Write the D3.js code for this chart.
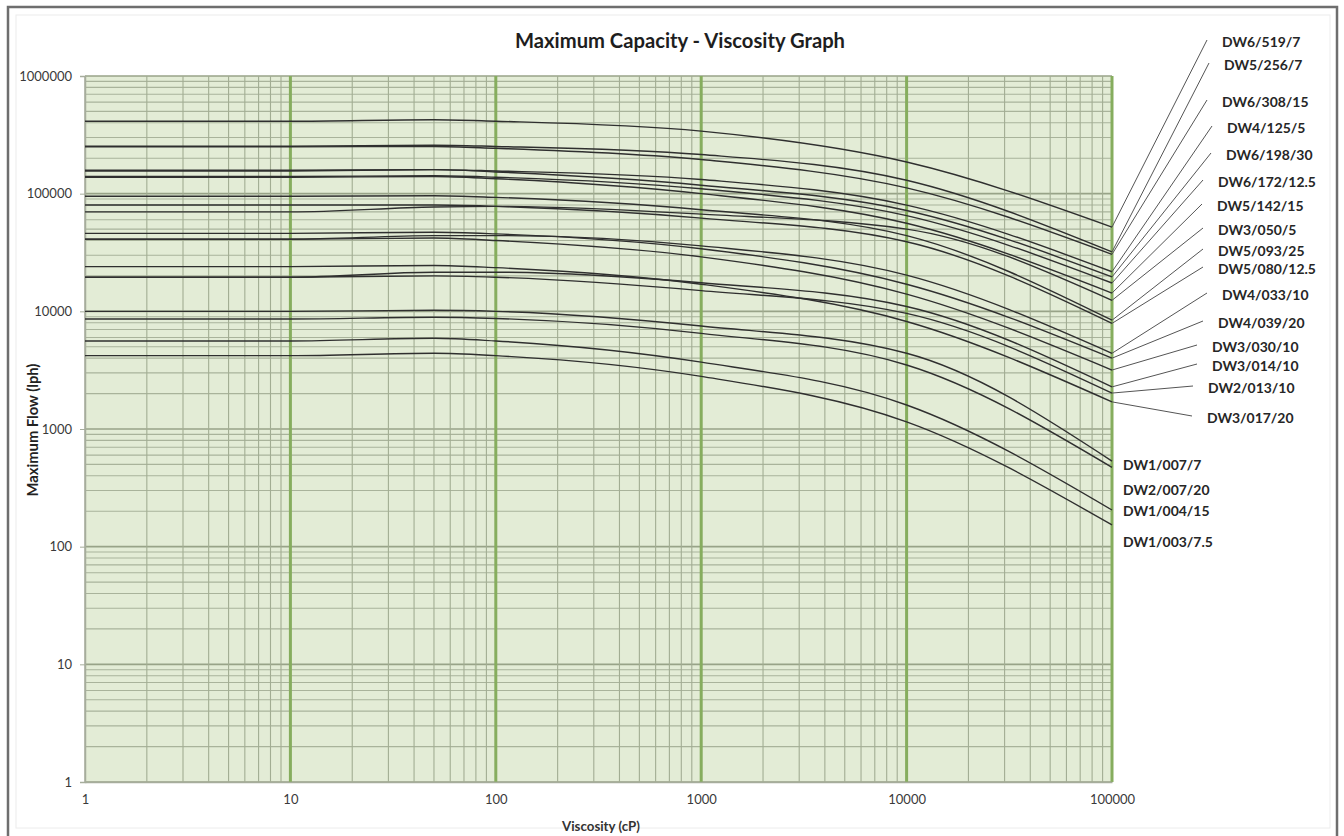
<!DOCTYPE html>
<html><head><meta charset="utf-8">
<script src="https://cdn.jsdelivr.net/npm/d3@7"></script>
<style>body{margin:0;background:#fff}svg{display:block}</style>
</head><body>
<svg id="c" width="1344" height="836"></svg>
<script>
// ---------- DATA ----------
const viscosity = [1, 10, 50, 100, 1000, 10000, 100000];   // cP
const xTickValues = [1, 10, 100, 1000, 10000, 100000];
const yTickValues = [1, 10, 100, 1000, 10000, 100000, 1000000];

const DW6_519_7    = [413000, 413000, 425000, 413000, 340000, 186000, 52000];
const DW5_256_7    = [253000, 253000, 258000, 252000, 215000, 130000, 32000];
const DW6_308_15   = [250000, 250000, 252000, 243000, 195000, 112000, 30500];
const DW4_125_5    = [156000, 156000, 160000, 156000, 132000, 80000, 21700];
const DW6_198_30   = [158000, 158000, 160000, 153000, 118000, 72000, 19600];
const DW6_172_12_5 = [140000, 140000, 142000, 138000, 110000, 65000, 17400];
const DW5_142_15   = [138000, 138000, 140000, 134000, 100000, 56000, 14300];
const DW3_050_5    = [70000, 70000, 77000, 78000, 67000, 50000, 12400];
const DW5_093_25   = [95000, 95000, 96000, 93000, 73000, 44000, 8400];
const DW5_080_12_5 = [80000, 80000, 80000, 78000, 62000, 39000, 7900];
const DW4_033_10   = [41000, 41000, 44000, 44000, 36000, 20300, 4400];
const DW4_039_20   = [46000, 46000, 47000, 45500, 34000, 17000, 4000];
const DW3_030_10   = [41000, 41000, 42000, 40000, 29000, 14000, 3170];
const DW3_014_10   = [19500, 19500, 21500, 21500, 17500, 11000, 2280];
const DW2_013_10   = [19500, 19500, 20000, 19500, 15000, 9600, 2020];
const DW3_017_20   = [24000, 24000, 24500, 23500, 17000, 8200, 1700];
const DW1_007_7    = [10000, 10000, 10200, 10000, 7500, 4400, 534];
const DW2_007_20   = [8600, 8600, 8900, 8700, 6500, 3500, 472];
const DW1_004_15   = [5600, 5600, 5900, 5600, 3700, 1600, 205];
const DW1_003_7_5  = [4200, 4200, 4400, 4200, 2800, 1150, 153];

const seriesNames = ["DW6/519/7","DW5/256/7","DW6/308/15","DW4/125/5","DW6/198/30","DW6/172/12.5",
  "DW5/142/15","DW3/050/5","DW5/093/25","DW5/080/12.5","DW4/033/10","DW4/039/20","DW3/030/10",
  "DW3/014/10","DW2/013/10","DW3/017/20","DW1/007/7","DW2/007/20","DW1/004/15","DW1/003/7.5"];
const seriesValues = [DW6_519_7, DW5_256_7, DW6_308_15, DW4_125_5, DW6_198_30, DW6_172_12_5,
  DW5_142_15, DW3_050_5, DW5_093_25, DW5_080_12_5, DW4_033_10, DW4_039_20, DW3_030_10,
  DW3_014_10, DW2_013_10, DW3_017_20, DW1_007_7, DW2_007_20, DW1_004_15, DW1_003_7_5];

// ---------- LAYOUT (label placement, px) ----------
const labelLayout = [
  [1222,42,true],[1224,65,true],[1222,102,true],[1227,128,true],[1226,155,true],[1218,182,true],
  [1217,206,true],[1218,230,true],[1218,251,true],[1218,269,true],[1222,295,true],[1218,323,true],
  [1212,347,true],[1212,366,true],[1208,388,true],[1207,418,true],
  [1123,465,false],[1123,490,false],[1123,511,false],[1123,542,false]];

const FONT = "Lato, 'Open Sans', sans-serif";
const svg = d3.select("#c");
const L = 85, R = 1112, T = 76, B = 782;

const x = d3.scaleLog().domain([1, 100000]).range([L, R]);
const y = d3.scaleLog().domain([1, 1000000]).range([B, T]);

function fit(sel, target) {
  const w = sel.node().getComputedTextLength();
  const fs = parseFloat(sel.attr("font-size"));
  sel.attr("font-size", (fs * target / w).toFixed(2));
}

// frame
svg.append("rect").attr("x", 16).attr("y", 15).attr("width", 1314).attr("height", 813)
  .attr("fill", "none").attr("stroke", "#ececec").attr("stroke-width", 1);
svg.append("rect").attr("x", 8).attr("y", 7).attr("width", 1329).attr("height", 860)
  .attr("fill", "none").attr("stroke", "#6e6e6e").attr("stroke-width", 2.5);

// plot background
svg.append("rect").attr("x", L).attr("y", T).attr("width", R - L).attr("height", B - T)
  .attr("fill", "#e3ecd6");

const grid = svg.append("g");
// horizontal minor/major lines
const yLines = [];
for (let d = 1; d < 1000000; d *= 10) for (let k = 1; k <= 9; k++) yLines.push(k * d);
yLines.push(1000000);
grid.selectAll("line.h").data(yLines).join("line")
  .attr("x1", L).attr("x2", R)
  .attr("y1", d => y(d)).attr("y2", d => y(d))
  .attr("stroke", d => Math.log10(d) % 1 === 0 ? "#98a388" : "#a9b39b")
  .attr("stroke-width", d => Math.log10(d) % 1 === 0 ? 1.6 : 1.1);
// vertical minor lines
const xMinor = [];
for (let d = 1; d < 100000; d *= 10) for (let k = 2; k <= 9; k++) xMinor.push(k * d);
grid.selectAll("line.vm").data(xMinor).join("line")
  .attr("y1", T).attr("y2", B)
  .attr("x1", d => x(d)).attr("x2", d => x(d))
  .attr("stroke", "#a2ad93").attr("stroke-width", 1.1);
// vertical major lines
grid.selectAll("line.vM").data(xTickValues).join("line")
  .attr("y1", T).attr("y2", B)
  .attr("x1", d => x(d)).attr("x2", d => x(d))
  .attr("stroke", d => d === 1 ? "#a6ad9c" : "#86ad5e")
  .attr("stroke-width", d => d === 1 ? 1.5 : 3);

// axes
const yAxis = svg.append("g").attr("transform", `translate(${L},0)`)
  .call(d3.axisLeft(y).tickValues(yTickValues).tickFormat(d3.format("d")).tickSize(5).tickPadding(8));
yAxis.select(".domain").attr("stroke", "#a6ad9c").attr("stroke-width", 1.5);
yAxis.selectAll(".tick line").attr("stroke", "#a6ad9c");
yAxis.selectAll("text").attr("font-family", FONT).attr("font-size", 13).attr("fill", "#3a3a3a");

const xAxis = svg.append("g").attr("transform", `translate(0,${B})`)
  .call(d3.axisBottom(x).tickValues(xTickValues).tickFormat(d3.format("d")).tickSize(0).tickPadding(13));
xAxis.select(".domain").attr("stroke", "#a6ad9c").attr("stroke-width", 1.5);
xAxis.selectAll("text").attr("font-family", FONT).attr("font-size", 13).attr("fill", "#3a3a3a");

// curves
const line = d3.line().x(d => x(d[0])).y(d => y(d[1])).curve(d3.curveMonotoneX);
svg.append("g").selectAll("path").data(seriesValues).join("path")
  .attr("d", vals => line(viscosity.map((v, i) => [v, vals[i]])))
  .attr("fill", "none").attr("stroke", "#2f2f2f").attr("stroke-width", 1.4);

// labels + leaders
const lab = svg.append("g");
seriesNames.forEach((name, i) => {
  const [lx, ly, leader] = labelLayout[i];
  const endV = seriesValues[i][seriesValues[i].length - 1];
  if (leader) {
    lab.append("line").attr("x1", x(100000)).attr("y1", y(endV))
      .attr("x2", lx - 15).attr("y2", ly - 2)
      .attr("stroke", "#555").attr("stroke-width", 1);
  }
  lab.append("text").attr("class", "slabel").attr("x", lx).attr("y", ly)
    .attr("dy", "0.35em").attr("font-family", FONT).attr("font-weight", 700)
    .attr("font-size", 14).attr("fill", "#262626").text(name);
});
// size labels to the reference width of "DW6/172/12.5" (~98px)
{
  const ref = lab.selectAll("text.slabel").filter(function(){return this.textContent === "DW6/172/12.5";});
  const w = ref.node().getComputedTextLength();
  lab.selectAll("text.slabel").attr("font-size", (14 * 98 / w).toFixed(2));
}

// titles
const title = svg.append("text").attr("x", 680).attr("y", 41).attr("dy", "0.35em")
  .attr("text-anchor", "middle").attr("font-family", FONT).attr("font-weight", 700)
  .attr("font-size", 22).attr("fill", "#1e1e1e").text("Maximum Capacity - Viscosity Graph");
fit(title, 330);

const yt = svg.append("text").attr("transform", "translate(33,430) rotate(-90)")
  .attr("text-anchor", "middle").attr("dy", "0.35em").attr("font-family", FONT)
  .attr("font-weight", 700).attr("font-size", 13).attr("fill", "#222").text("Maximum Flow (lph)");
fit(yt, 133);

const xt = svg.append("text").attr("x", 601).attr("y", 826).attr("dy", "0.35em")
  .attr("text-anchor", "middle").attr("font-family", FONT).attr("font-weight", 700)
  .attr("font-size", 12).attr("fill", "#333").text("Viscosity (cP)");
fit(xt, 78);
</script>
</body></html>
